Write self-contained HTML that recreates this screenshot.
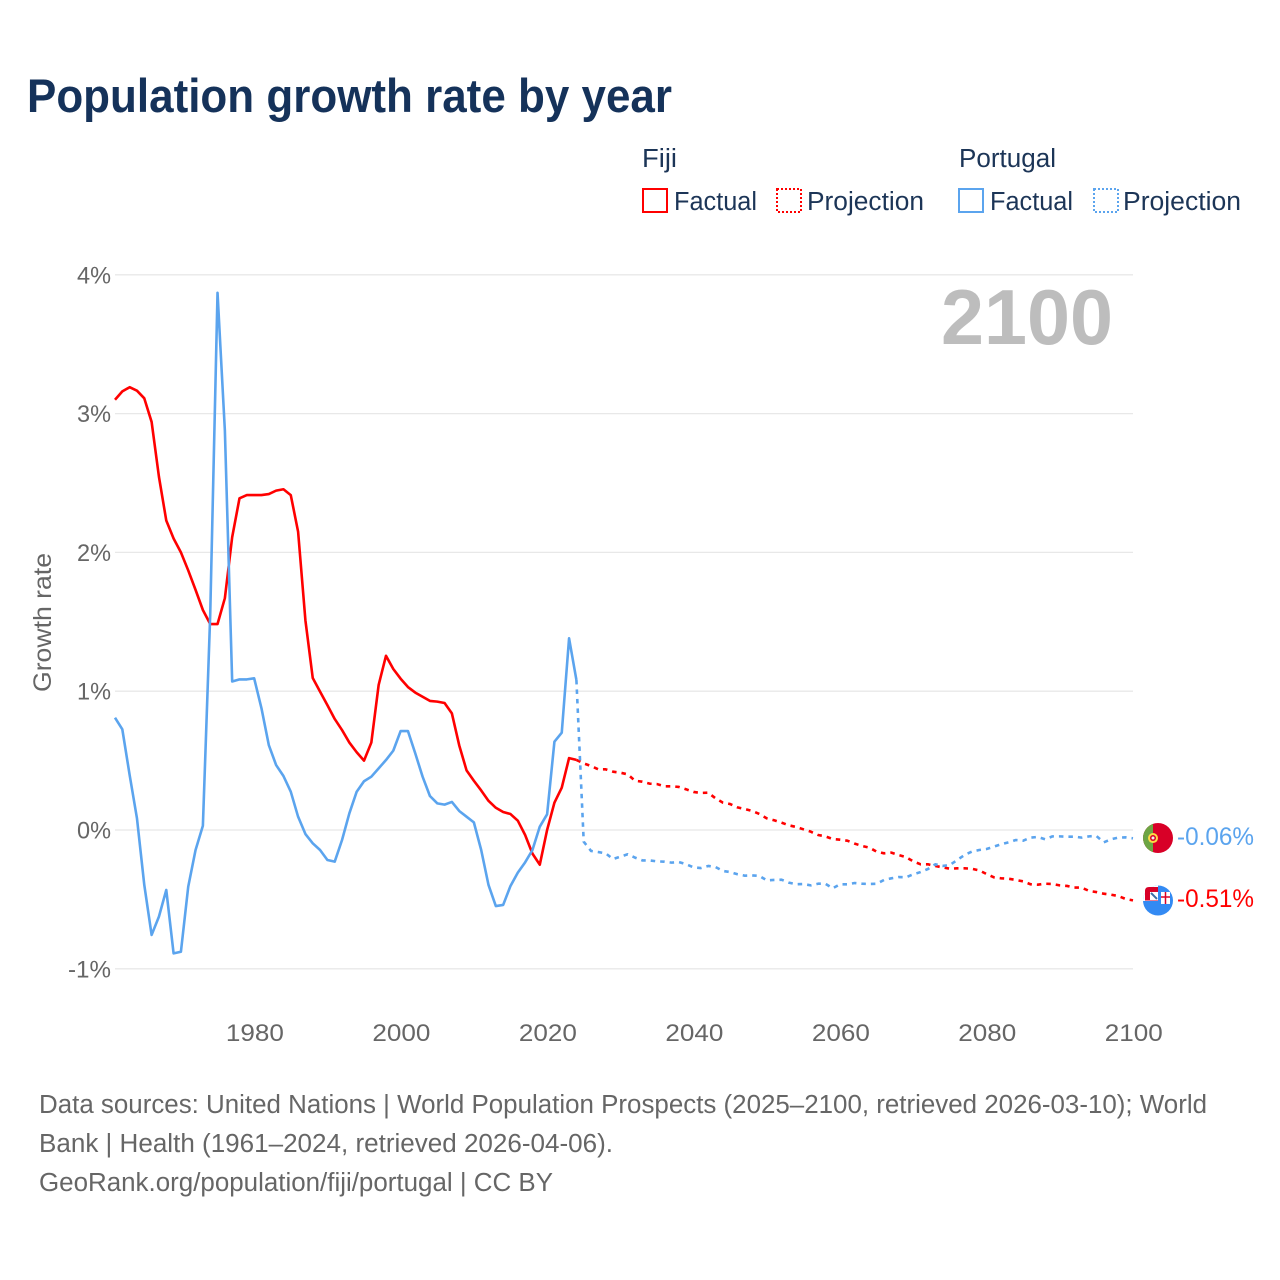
<!DOCTYPE html>
<html lang="en">
<head>
<meta charset="utf-8">
<title>Population growth rate by year</title>
<style>
html,body{margin:0;padding:0;background:#fff;}
#chart{display:block;width:1280px;height:1280px;font-family:"Liberation Sans",sans-serif;}
.title{font-size:47px;font-weight:700;fill:#15325a;}
.legend{font-size:25.5px;fill:#1c3557;}
.foot{font-size:25.5px;fill:#666;}
.tick{font-size:24.5px;fill:#666;}
.axis-title{font-size:25px;fill:#666;}
</style>
</head>
<body>
<svg id="chart" xmlns="http://www.w3.org/2000/svg" width="1280" height="1280" viewBox="0 0 1280 1280">
  <rect x="0" y="0" width="1280" height="1280" fill="#fff"/>
  <text class="title" x="27" y="112" textLength="645" lengthAdjust="spacingAndGlyphs">Population growth rate by year</text>

  <g>
    <text class="legend" x="642" y="167" textLength="35" lengthAdjust="spacingAndGlyphs">Fiji</text>
    <text class="legend" x="959" y="167" textLength="97" lengthAdjust="spacingAndGlyphs">Portugal</text>
    <rect x="643" y="189" width="24" height="23" fill="none" stroke="#ff0000" stroke-width="2"/>
    <text class="legend" x="674" y="210" textLength="83" lengthAdjust="spacingAndGlyphs">Factual</text>
    <rect x="777" y="189" width="24" height="23" fill="none" stroke="#ff0000" stroke-width="2" stroke-dasharray="2 2"/>
    <text class="legend" x="807" y="210" textLength="117" lengthAdjust="spacingAndGlyphs">Projection</text>
    <rect x="959" y="189" width="24" height="23" fill="none" stroke="#5ba4ee" stroke-width="2"/>
    <text class="legend" x="990" y="210" textLength="83" lengthAdjust="spacingAndGlyphs">Factual</text>
    <rect x="1094" y="189" width="24" height="23" fill="none" stroke="#5ba4ee" stroke-width="2" stroke-dasharray="2 2"/>
    <text class="legend" x="1123" y="210" textLength="118" lengthAdjust="spacingAndGlyphs">Projection</text>
  </g>

  <g id="grid"></g>
  <text x="941" y="344" font-size="78" font-weight="700" fill="#bdbdbd" textLength="172" lengthAdjust="spacingAndGlyphs">2100</text>
  <text class="axis-title" transform="translate(51,692) rotate(-90)" textLength="139" lengthAdjust="spacingAndGlyphs">Growth rate</text>
  <g id="yticks"></g>
  <g id="xticks"></g>
  <g id="series"></g>

  <defs>
    <clipPath id="clip-pt"><circle id="clip-pt-c" cx="1158" cy="838" r="15"/></clipPath>
    <clipPath id="clip-fj"><circle id="clip-fj-c" cx="1158" cy="900.5" r="15"/></clipPath>
  </defs>
  <g id="flag-fiji">
    <g clip-path="url(#clip-fj)">
      <rect x="1143" y="885" width="30" height="31" fill="#338af3"/>
      <rect x="1143" y="885" width="15" height="16" fill="#fff"/>
    </g>
    <path d="M1145 900.500 V891 Q1145 887 1149 887 H1158 V900.500 Z" fill="#d80027"/>
    <rect x="1150" y="892" width="8" height="8" fill="#fff"/>
    <path d="M1151 893 L1157 899" stroke="#3a6ea5" stroke-width="2"/>
    <rect x="1161" y="892" width="9" height="12" fill="#fff"/>
    <path d="M1165.500 892 V904 M1161 897 H1170" stroke="#d80027" stroke-width="1.500"/>
  </g>
  <g id="flag-portugal" clip-path="url(#clip-pt)">
    <rect x="1143" y="823" width="30" height="31" fill="#d80027"/>
    <rect x="1143" y="823" width="10" height="31" fill="#6da544"/>
    <circle cx="1153" cy="838" r="5" fill="#ffda44"/>
    <circle cx="1153" cy="838" r="3" fill="#d80027"/>
    <circle cx="1153" cy="838" r="1.500" fill="#f0f0f0"/>
  </g>
  <text id="end-label-portugal" x="1177" y="845" font-size="25" fill="#5ba4ee" textLength="77" lengthAdjust="spacingAndGlyphs"></text>
  <text id="end-label-fiji" x="1177" y="907" font-size="25" fill="#ff0000" textLength="77" lengthAdjust="spacingAndGlyphs"></text>

  <g>
    <text class="foot" x="39" y="1113" textLength="1168" lengthAdjust="spacingAndGlyphs">Data sources: United Nations | World Population Prospects (2025–2100, retrieved 2026-03-10); World</text>
    <text class="foot" x="39" y="1152" textLength="574" lengthAdjust="spacingAndGlyphs">Bank | Health (1961–2024, retrieved 2026-04-06).</text>
    <text class="foot" x="39" y="1191" textLength="514" lengthAdjust="spacingAndGlyphs">GeoRank.org/population/fiji/portugal | CC BY</text>
  </g>
</svg>
<script>
const firstFactualYear = 1961;
const firstProjectionYear = 2024;
const yTickValues = [4, 3, 2, 1, 0, -1];
const xTickYears = [1980, 2000, 2020, 2040, 2060, 2080, 2100];

const fijiFactual = [3.10,3.16,3.19,3.165,3.11,2.94,2.545,2.23,2.10,2.00,1.87,1.73,1.585,1.484,1.484,1.67,2.11,2.39,2.413,2.413,2.413,2.42,2.445,2.455,2.413,2.15,1.51,1.095,0.997,0.90,0.80,0.72,0.63,0.56,0.50,0.63,1.045,1.255,1.16,1.09,1.03,0.99,0.96,0.93,0.925,0.915,0.84,0.61,0.43,0.355,0.285,0.21,0.16,0.13,0.115,0.067,-0.036,-0.17,-0.25,0,0.197,0.305,0.518,0.505];

const fijiProjection = [0.505,0.480,0.461,0.437,0.437,0.420,0.413,0.401,0.355,0.348,0.334,0.331,0.315,0.315,0.310,0.293,0.274,0.267,0.269,0.228,0.197,0.187,0.163,0.151,0.137,0.115,0.084,0.070,0.053,0.034,0.022,0.005,-0.012,-0.036,-0.046,-0.065,-0.070,-0.077,-0.098,-0.115,-0.127,-0.156,-0.168,-0.163,-0.180,-0.195,-0.226,-0.247,-0.247,-0.259,-0.269,-0.279,-0.276,-0.276,-0.279,-0.291,-0.317,-0.341,-0.348,-0.351,-0.360,-0.370,-0.391,-0.394,-0.387,-0.389,-0.399,-0.403,-0.415,-0.415,-0.439,-0.447,-0.459,-0.466,-0.476,-0.497,-0.507];

const portugalFactual = [0.809,0.725,0.396,0.084,-0.396,-0.756,-0.624,-0.432,-0.889,-0.877,-0.408,-0.144,0.031,1.55,3.87,2.88,1.07,1.085,1.085,1.093,0.877,0.612,0.468,0.389,0.276,0.096,-0.029,-0.096,-0.144,-0.216,-0.228,-0.072,0.12,0.276,0.351,0.384,0.444,0.504,0.572,0.713,0.713,0.552,0.384,0.245,0.192,0.183,0.202,0.137,0.096,0.055,-0.144,-0.396,-0.548,-0.540,-0.403,-0.307,-0.233,-0.144,0.024,0.113,0.636,0.701,1.381,1.081];

const portugalProjection = [1.081,-0.084,-0.151,-0.159,-0.168,-0.209,-0.192,-0.175,-0.199,-0.219,-0.219,-0.226,-0.228,-0.235,-0.231,-0.247,-0.269,-0.274,-0.259,-0.267,-0.295,-0.303,-0.319,-0.329,-0.327,-0.331,-0.363,-0.360,-0.358,-0.379,-0.391,-0.389,-0.399,-0.387,-0.387,-0.420,-0.391,-0.391,-0.382,-0.387,-0.389,-0.387,-0.360,-0.348,-0.339,-0.341,-0.319,-0.303,-0.281,-0.247,-0.259,-0.252,-0.216,-0.180,-0.156,-0.144,-0.137,-0.120,-0.103,-0.089,-0.072,-0.077,-0.055,-0.050,-0.067,-0.046,-0.046,-0.048,-0.048,-0.055,-0.046,-0.043,-0.089,-0.067,-0.055,-0.053,-0.060];

const SVGNS = 'http://www.w3.org/2000/svg';
function xScale(year) { return 115 + (year - 1961) * (1133 - 115) / (2100 - 1961); }
function yScale(v) { return 830 - v * 138.8; }
function make(tag, attrs) {
  const el = document.createElementNS(SVGNS, tag);
  for (const k in attrs) el.setAttribute(k, attrs[k]);
  return el;
}
function pointsFor(values, startYear) {
  return values.map(function (v, i) {
    return xScale(startYear + i).toFixed(2) + ',' + yScale(v).toFixed(2);
  }).join(' ');
}

const gridG = document.getElementById('grid');
const yG = document.getElementById('yticks');
yTickValues.forEach(function (v) {
  const line = make('line', {x1: 115, x2: 1133, y1: yScale(v), y2: yScale(v), stroke: '#e8e8e8', 'stroke-width': 1.3});
  
  
  gridG.appendChild(line);
  const t = make('text', {x: 111, y: yScale(v) + 8.500, 'text-anchor': 'end', class: 'tick', textLength: (String(v).length === 2 ? 43 : 34), lengthAdjust: 'spacingAndGlyphs'});
  
  
  t.textContent = v + '%';
  yG.appendChild(t);
});

const xG = document.getElementById('xticks');
xTickYears.forEach(function (yr) {
  const t = make('text', {x: xScale(yr) + 0.8, y: 1041, 'text-anchor': 'middle', class: 'tick', textLength: 58, lengthAdjust: 'spacingAndGlyphs'});
  
  
  t.textContent = yr;
  xG.appendChild(t);
});

const seriesG = document.getElementById('series');
const common = {fill: 'none', 'stroke-width': 2.600, 'stroke-linejoin': 'round'};

const fp = make('polyline', Object.assign({points: pointsFor(fijiProjection, firstProjectionYear), stroke: '#ff0000', 'stroke-dasharray': '4.500 5'}, common));


seriesG.appendChild(fp);

const ff = make('polyline', Object.assign({points: pointsFor(fijiFactual, firstFactualYear), stroke: '#ff0000'}, common));


seriesG.appendChild(ff);

const pp = make('polyline', Object.assign({points: pointsFor(portugalProjection, firstProjectionYear), stroke: '#5ba4ee', 'stroke-dasharray': '4.500 5'}, common));


seriesG.appendChild(pp);

const pf = make('polyline', Object.assign({points: pointsFor(portugalFactual, firstFactualYear), stroke: '#5ba4ee'}, common));


seriesG.appendChild(pf);

const lastFiji = fijiProjection[fijiProjection.length - 1];
const lastPortugal = portugalProjection[portugalProjection.length - 1];
document.getElementById('end-label-fiji').textContent = lastFiji.toFixed(2) + '%';
document.getElementById('end-label-portugal').textContent = lastPortugal.toFixed(2) + '%';
document.getElementById('end-label-fiji').setAttribute('y', (yScale(lastFiji) + 6.500).toFixed(1));
document.getElementById('end-label-portugal').setAttribute('y', (yScale(lastPortugal) + 6.700).toFixed(1));
document.getElementById('flag-fiji').setAttribute('transform', 'translate(0,' + (yScale(lastFiji) - 900.4).toFixed(2) + ')');
document.getElementById('flag-portugal').setAttribute('transform', 'translate(0,' + (yScale(lastPortugal) - 838.3).toFixed(2) + ')');
</script>
</body>
</html>
